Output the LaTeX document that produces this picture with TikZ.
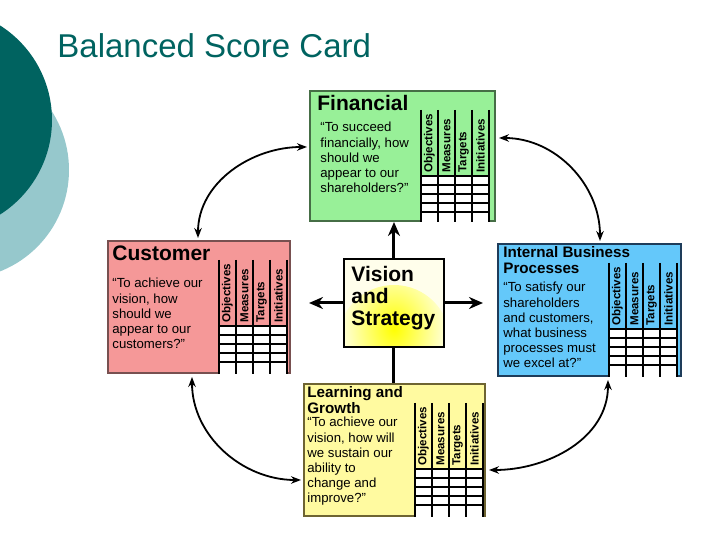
\documentclass[tikz,border=0pt]{standalone}
\usepackage{fontspec}
\setmainfont{Liberation Sans}
\usetikzlibrary{calc,arrows.meta}
\definecolor{tealdark}{RGB}{0,99,96}
\definecolor{teallight}{RGB}{150,200,204}
\definecolor{finfill}{RGB}{152,240,152}
\definecolor{finedge}{RGB}{70,110,70}
\definecolor{cusfill}{RGB}{245,152,152}
\definecolor{cusedge}{RGB}{120,80,80}
\definecolor{intfill}{RGB}{100,200,250}
\definecolor{intedge}{RGB}{30,60,90}
\definecolor{leafill}{RGB}{255,250,160}
\definecolor{leaedge}{RGB}{110,100,50}
\tikzset{
  card/.style={draw, line width=1pt, rectangle, anchor=north west, inner sep=0pt},
  cardtitle/.style={anchor=north west, inner sep=0pt, font=\bfseries\fontsize{10.5}{11}\selectfont, align=left},
  quote/.style={anchor=north west, inner sep=0pt, font=\fontsize{6.6}{7.6}\selectfont, align=left},
  collab/.style={rotate=90, anchor=west, inner sep=0.5pt, font=\bfseries\fontsize{5.8}{6}\selectfont},
  link/.style={{Stealth[length=5pt]}-{Stealth[length=5pt]}, line width=0.9pt},
  push/.style={-{Stealth[length=7pt,width=6pt]}, line width=1.5pt}
}
% grid of objectives / measures / targets / initiatives
\newcommand{\scgrid}[1]{%
  \fill[white] ($(#1.north west)+(112,86)$) rectangle ($(#1.south west)+(180,0)$);
  \foreach \i in {0,...,4}
    \draw[line width=0.6pt] ($(#1.north west)+(112+17*\i,20)$) -- ($(#1.south west)+(112+17*\i,0)$);
  \foreach \j in {0,...,4}
    \draw[line width=0.6pt] ($(#1.north west)+(112,86+9*\j)$) -- ($(#1.north west)+(180,86+9*\j)$);
  \foreach \t [count=\i] in {Objectives,Measures,Targets,Initiatives}
    \node[collab] at ($(#1.north west)+(112+17*\i-8.5,84)$) {\t};
}
\begin{document}
\begin{tikzpicture}[x=0.5pt,y=-0.5pt]
  \useasboundingbox (0,0) rectangle (720,540);
  % slide background
  \fill[teallight] (-40,170) circle (109);
  \fill[tealdark] (-60,120) circle (112);
  \node[anchor=base west, inner sep=0pt, text=tealdark, font=\fontsize{16.5}{18}\selectfont] (title) at (57,58) {Balanced Score Card};

  % cards
  \node[card, fill=finfill, draw=finedge, minimum width=92.5pt, minimum height=65pt] (fin) at (309,90) {};
  \node[card, fill=cusfill, draw=cusedge, minimum width=91pt, minimum height=66pt] (cus) at (107,240) {};
  \node[card, fill=intfill, draw=intedge, minimum width=91.5pt, minimum height=66pt] (int) at (497,243) {};
  \node[card, fill=leafill, draw=leaedge, minimum width=90.5pt, minimum height=66pt] (lea) at (303,383) {};
  \scgrid{fin} \scgrid{cus} \scgrid{int} \scgrid{lea}

  \node[cardtitle] (fint) at ($(fin.north west)+(8,5)$) {Financial};
  \node[quote] (finq) at ($(fin.north west)+(11,32)$) {``To succeed\\financially, how\\should we\\appear to our\\shareholders?''};
  \node[cardtitle] (cust) at ($(cus.north west)+(5,5)$) {Customer};
  \node[quote] (cusq) at ($(cus.north west)+(5,38)$) {``To achieve our\\vision, how\\should we\\appear to our\\customers?''};
  \node[cardtitle, font=\bfseries\fontsize{7.6}{8}\selectfont] (intt) at ($(int.north west)+(6,3)$) {Internal Business\\Processes};
  \node[quote] (intq) at ($(int.north west)+(6,39)$) {``To satisfy our\\shareholders\\and customers,\\what business\\processes must\\we excel at?''};
  \node[cardtitle, font=\bfseries\fontsize{7.6}{8}\selectfont] (leat) at ($(lea.north west)+(4,3)$) {Learning and\\Growth};
  \node[quote] (leaq) at ($(lea.north west)+(4,34)$) {``To achieve our\\vision, how will\\we sustain our\\ability to\\change and\\improve?''};

  % vision and strategy
  \node[card, draw=black, fill=yellow!8, minimum width=50pt, minimum height=44pt,
        path picture={\shade[inner color=yellow, outer color=yellow!8] ($(path picture bounding box.south)+(0,-6)$) circle (28pt);}] (vis) at (343,258) {};
  \node[cardtitle, font=\bfseries\fontsize{10.5}{11}\selectfont] (vist) at ($(vis.north west)+(8,8)$) {Vision\\and\\Strategy};

  % connectors
  \draw[push] (vis.north) -- (vis.north |- fin.south);
  \draw[push] (vis.west) -- ($(vis.west)+(-34,0)$) coordinate (visw);
  \draw[push] (vis.east) -- ($(vis.east)+(38,0)$) coordinate (vise);
  \draw[line width=1.5pt] (vis.south) -- (vis.south |- lea.north);

  \coordinate (finw) at ($(fin.north west)+(-2,57)$);
  \coordinate (fine) at ($(fin.north east)+(3,48)$);
  \coordinate (cusn) at ($(cus.north west)+(91,-2)$);
  \coordinate (cuss) at ($(cus.south west)+(85,3)$);
  \coordinate (intn) at ($(int.north west)+(103,-2)$);
  \coordinate (ints) at ($(int.south west)+(111,3)$);
  \coordinate (leaw) at ($(lea.north west)+(-2,97)$);
  \coordinate (leae) at ($(lea.north east)+(3,87)$);
  \draw[link] (finw) to[out=180,in=90] (cusn);
  \draw[link] (fine) to[out=0,in=90] (intn);
  \draw[link] (cuss) to[out=-90,in=180] (leaw);
  \draw[link] (ints) to[out=-90,in=0] (leae);
\end{tikzpicture}
\end{document}
